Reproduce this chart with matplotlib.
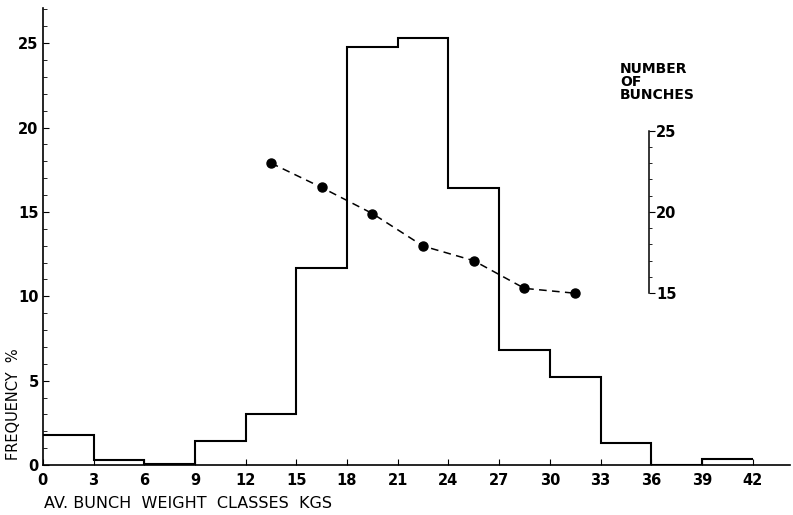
import numpy as np
import matplotlib
matplotlib.use("Agg")
import matplotlib.pyplot as plt
from matplotlib.ticker import MultipleLocator, FixedLocator

# weight classes (kg) and frequency %
edges = [0, 3, 6, 9, 12, 15, 18, 21, 24, 27, 30, 33, 36, 39, 42]
freq = [1.8, 0.3, 0.05, 1.4, 3.0, 11.7, 24.8, 25.3, 16.4, 6.8, 5.2, 1.3, 0.0, 0.35]

# mean number of bunches per class
class_mid = [13.5, 16.5, 19.5, 22.5, 25.5, 28.5, 31.5]
bunches = [23.0, 21.5, 19.9, 17.9, 17.0, 15.3, 15.0]

xticks = list(range(0, 43, 3))

plt.rcParams['font.family'] = ['DejaVu Sans']

fig = plt.figure(figsize=(7.93, 5.15), dpi=100)
ax = fig.add_axes([0.054, 0.097, 0.942, 0.888])

ax.stairs(freq, edges, color='black', lw=1.5, baseline=None)
ax.set_xlim(0, 44.2)
ax.set_ylim(0, 27.1)

for s in ['top', 'right']:
    ax.spines[s].set_visible(False)
ax.spines['left'].set_linewidth(1.2)
ax.spines['bottom'].set_linewidth(1.2)

ax.set_xticks(xticks)
ax.set_xticklabels([str(t) for t in xticks], fontweight='bold', fontsize=10.5)
ax.set_yticks([0, 5, 10, 15, 20, 25])
ax.set_yticklabels(['0', '5', '10', '15', '20', '25'], fontweight='bold', fontsize=10.5)
ax.yaxis.set_minor_locator(MultipleLocator(1))
ax.tick_params(axis='x', direction='in', length=4, pad=6)
ax.tick_params(axis='y', which='major', direction='in', length=4, pad=3)
ax.tick_params(axis='y', which='minor', direction='in', length=3)

# right-hand scale for number of bunches
ax2 = ax.twinx()
ax2.set_ylim(4.44, 32.55)
ax2.plot(class_mid, bunches, color='black', ls=(0, (5, 3.5)), lw=1.1,
         marker='o', markersize=6.5)
for s in ['top', 'left', 'bottom']:
    ax2.spines[s].set_visible(False)
ax2.spines['right'].set_position(('data', 35.86))
ax2.spines['right'].set_bounds(15, 25)
ax2.spines['right'].set_linewidth(1.1)
ax2.set_yticks([15, 20, 25])
ax2.set_yticklabels(['15', '20', '25'], fontweight='bold', fontsize=10.5)
ax2.yaxis.set_minor_locator(FixedLocator([16, 17, 18, 19, 21, 22, 23, 24]))
ax2.tick_params(axis='y', which='major', direction='out', length=4, pad=1)
ax2.tick_params(axis='y', which='minor', direction='out', length=2.5)

fig.text(620 / 793, 1 - 82 / 515, 'NUMBER\nOF\nBUNCHES', fontsize=10, fontweight='bold',
         ha='left', va='center', linespacing=0.95)

fig.text(14 / 793, 1 - 404 / 515, 'FREQUENCY  %', rotation=90, fontsize=10.5,
         ha='center', va='center')
fig.text(44 / 793, 1 - 503 / 515, 'AV. BUNCH  WEIGHT  CLASSES  KGS', fontsize=11.5,
         ha='left', va='center')

fig.savefig('out.png', dpi=100)
